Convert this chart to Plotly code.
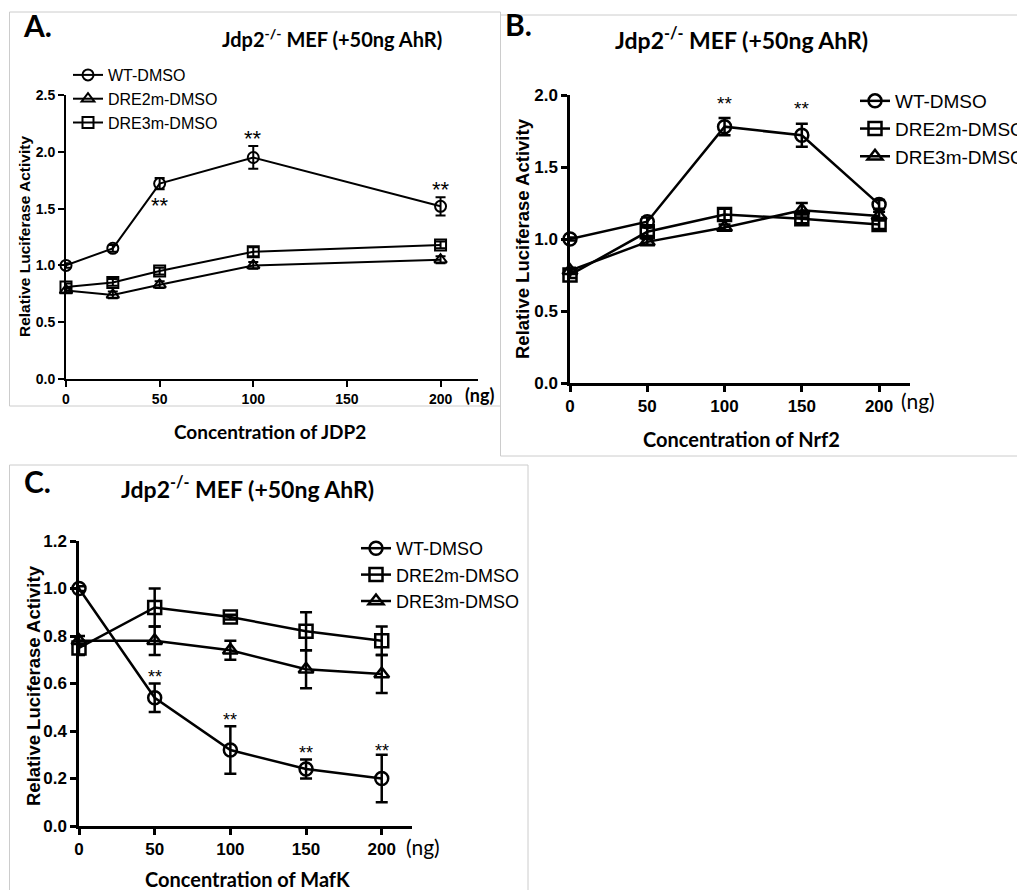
import plotly.graph_objects as go

# ---------------- data ----------------
series_names = ["WT-DMSO", "DRE2m-DMSO", "DRE3m-DMSO"]

xA = [0, 25, 50, 100, 200]
A_wt = [1.00, 1.15, 1.72, 1.95, 1.52]
A_wt_err = [0.02, 0.03, 0.05, 0.10, 0.08]
A_dre2m = [0.78, 0.74, 0.83, 1.00, 1.05]
A_dre2m_err = [0.02, 0.03, 0.03, 0.03, 0.03]
A_dre3m = [0.81, 0.85, 0.95, 1.12, 1.18]
A_dre3m_err = [0.03, 0.03, 0.03, 0.04, 0.03]
A_star_x = [50, 100, 200]
A_star_y = [1.56, 2.15, 1.70]

xB = [0, 50, 100, 150, 200]
B_wt = [1.00, 1.12, 1.78, 1.72, 1.24]
B_wt_err = [0.01, 0.03, 0.06, 0.08, 0.03]
B_dre2m = [0.75, 1.05, 1.17, 1.14, 1.10]
B_dre2m_err = [0.02, 0.03, 0.04, 0.03, 0.03]
B_dre3m = [0.78, 0.98, 1.08, 1.20, 1.16]
B_dre3m_err = [0.02, 0.02, 0.02, 0.05, 0.03]
B_star_x = [100, 150]
B_star_y = [1.95, 1.91]

xC = [0, 50, 100, 150, 200]
C_wt = [1.00, 0.54, 0.32, 0.24, 0.20]
C_wt_err = [0.01, 0.06, 0.10, 0.04, 0.10]
C_dre2m = [0.75, 0.92, 0.88, 0.82, 0.78]
C_dre2m_err = [0.03, 0.08, 0.01, 0.08, 0.06]
C_dre3m = [0.78, 0.78, 0.74, 0.66, 0.64]
C_dre3m_err = [0.02, 0.06, 0.04, 0.08, 0.08]
C_star_x = [50, 100, 150, 200]
C_star_y = [0.64, 0.46, 0.32, 0.33]

xticks = [0, 50, 100, 150, 200]
yticksA = [0.0, 0.5, 1.0, 1.5, 2.0, 2.5]
yticksB = [0.0, 0.5, 1.0, 1.5, 2.0]
yticksC = [0.0, 0.2, 0.4, 0.6, 0.8, 1.0, 1.2]

title_txt = "Jdp2<sup>-/-</sup> MEF (+50ng AhR)"
ylabel = "Relative Luciferase Activity"

# ---------------- figure ----------------
W, H = 1017, 890
fig = go.Figure()

def px(xp):
    return xp / W

def py(yp):
    return 1 - yp / H

BLACK = "#000000"
TICKFONT = "Liberation Sans, Arial, sans-serif"
CAL = "Lato, Open Sans, sans-serif"

def add_series(x, y, err, name, symbol, xa, ya, legend, msize, lw, cap):
    fig.add_trace(go.Scatter(
        x=x, y=y, mode="lines+markers", name=name,
        xaxis=xa, yaxis=ya, legend=legend, legendgroup=legend + name,
        line=dict(color=BLACK, width=lw),
        marker=dict(symbol=symbol, size=msize, color=BLACK,
                    line=dict(color=BLACK, width=lw)),
        error_y=dict(type="data", array=err, visible=True, color=BLACK,
                     thickness=lw, width=cap),
        cliponaxis=False,
    ))

# Panel A
add_series(xA, A_wt, A_wt_err, series_names[0], "circle-open", "x", "y", "legend", 11, 2, 5)
add_series(xA, A_dre2m, A_dre2m_err, series_names[1], "triangle-up-open", "x", "y", "legend", 11, 2, 5)
add_series(xA, A_dre3m, A_dre3m_err, series_names[2], "square-open", "x", "y", "legend", 11, 2, 5)
# Panel B
add_series(xB, B_wt, B_wt_err, series_names[0], "circle-open", "x2", "y2", "legend2", 13, 2.5, 6)
add_series(xB, B_dre2m, B_dre2m_err, series_names[1], "square-open", "x2", "y2", "legend2", 13, 2.5, 6)
add_series(xB, B_dre3m, B_dre3m_err, series_names[2], "triangle-up-open", "x2", "y2", "legend2", 13, 2.5, 6)
# Panel C
add_series(xC, C_wt, C_wt_err, series_names[0], "circle-open", "x3", "y3", "legend3", 13, 2.5, 6)
add_series(xC, C_dre2m, C_dre2m_err, series_names[1], "square-open", "x3", "y3", "legend3", 13, 2.5, 6)
add_series(xC, C_dre3m, C_dre3m_err, series_names[2], "triangle-up-open", "x3", "y3", "legend3", 13, 2.5, 6)

def axis_common(size, lw):
    return dict(showline=True, linecolor=BLACK, linewidth=lw, ticks="outside",
                tickcolor=BLACK, tickwidth=lw, ticklen=6, showgrid=False,
                zeroline=False, mirror=False, automargin=False,
                tickfont=dict(family=TICKFONT, size=size, color=BLACK, weight="bold"))

layout = dict(
    width=W, height=H, paper_bgcolor="white", plot_bgcolor="white",
    margin=dict(l=0, r=0, t=0, b=0, pad=0, autoexpand=False), showlegend=True,
)

layout["xaxis"] = dict(domain=[px(66), px(478)], range=[0, 220], anchor="y",
                       tickvals=xticks, **axis_common(14, 2))
layout["yaxis"] = dict(domain=[py(379), py(95)], range=[0, 2.5], anchor="x",
                       tickvals=yticksA, tickformat=".1f", **axis_common(14, 2))
layout["xaxis2"] = dict(domain=[px(570), px(910)], range=[0, 220], anchor="y2",
                        tickvals=xticks, **axis_common(17, 2.5))
layout["yaxis2"] = dict(domain=[py(383), py(95)], range=[0, 2.0], anchor="x2",
                        tickvals=yticksB, tickformat=".1f", **axis_common(17, 2.5))
layout["xaxis3"] = dict(domain=[px(79), px(412)], range=[0, 220], anchor="y3",
                        tickvals=xticks, **axis_common(17, 2.5))
layout["yaxis3"] = dict(domain=[py(826), py(541)], range=[0, 1.2], anchor="x3",
                        tickvals=yticksC, tickformat=".1f", **axis_common(17, 2.5))

def leg(x, y, size, gap):
    return dict(x=px(x), y=py(y), xanchor="left", yanchor="top",
                bgcolor="rgba(0,0,0,0)", borderwidth=0, itemwidth=30,
                tracegroupgap=gap, traceorder="normal",
                font=dict(family=TICKFONT, size=size, color=BLACK))

layout["legend"] = leg(68, 58, 16, 3)
layout["legend2"] = leg(855, 82, 19, 2)
layout["legend3"] = leg(356, 530, 18, 5)

fig.update_layout(**layout)

# panel borders
BORDER = "#cccccc"
fig.add_shape(type="rect", xref="paper", yref="paper", x0=px(500.5), x1=px(1020),
              y0=py(456), y1=py(15), line=dict(color=BORDER, width=1), layer="below")
fig.add_shape(type="rect", xref="paper", yref="paper", x0=px(9.5), x1=px(500.5),
              y0=py(406), y1=py(12), line=dict(color=BORDER, width=1),
              fillcolor="white", layer="below")
fig.add_shape(type="rect", xref="paper", yref="paper", x0=px(9.5), x1=px(528),
              y0=py(900), y1=py(465), line=dict(color=BORDER, width=1), layer="below")

ann = []
def text(x, y, t, size, bold=True, family=CAL, angle=0):
    ann.append(dict(x=px(x), y=py(y), xref="paper", yref="paper", text=t,
                    showarrow=False, xanchor="center", yanchor="middle",
                    textangle=angle,
                    font=dict(family=family, size=size, color=BLACK,
                              weight="bold" if bold else "normal")))

# panel letters
text(37, 25, "A.", 30)
text(518, 24, "B.", 30)
text(37, 481, "C.", 30)
# titles
text(332, 38, title_txt, 20)
text(741, 38, title_txt, 23)
text(247, 487, title_txt, 23)
# y axis titles
text(25, 237, ylabel, 15.5, family=TICKFONT, angle=-90)
text(522, 239, ylabel, 18.5, family=TICKFONT, angle=-90)
text(33, 686, ylabel, 18.5, family=TICKFONT, angle=-90)
# x axis titles
text(270, 431, "Concentration of JDP2", 19)
text(741, 439, "Concentration of Nrf2", 20)
text(247, 879, "Concentration of MafK", 20)
# (ng)
text(480, 395, "(ng)", 18, bold=True)
text(918, 400, "(ng)", 21, bold=False)
text(423, 846, "(ng)", 21, bold=False)

# significance stars
def stars(xs, ys, xa, ya, size, shift):
    for xv, yv in zip(xs, ys):
        ann.append(dict(x=xv, y=yv, xref=xa, yref=ya, text="**", showarrow=False,
                        xanchor="center", yanchor="middle", yshift=shift,
                        font=dict(family=TICKFONT, size=size, color=BLACK)))

stars(A_star_x, A_star_y, "x", "y", 22, -4)
stars(B_star_x, B_star_y, "x2", "y2", 19, -1)
stars(C_star_x, C_star_y, "x3", "y3", 18, -3)

fig.update_layout(annotations=ann)
fig.write_html("out.html", post_script="document.body.style.margin='0';",
               config={"displayModeBar": False})
